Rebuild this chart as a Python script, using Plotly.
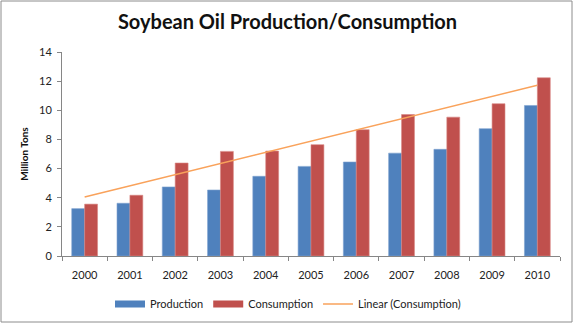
import numpy as np
import plotly.graph_objects as go

years = ["2000", "2001", "2002", "2003", "2004", "2005", "2006", "2007", "2008", "2009", "2010"]
production = [3.25, 3.62, 4.74, 4.53, 5.47, 6.15, 6.45, 7.06, 7.32, 8.74, 10.33]
consumption = [3.56, 4.17, 6.38, 7.18, 7.20, 7.64, 8.67, 9.71, 9.53, 10.45, 12.23]
y_ticks = [0, 2, 4, 6, 8, 10, 12, 14]

# linear trendline of consumption (least squares)
xi = np.arange(len(years))
slope, intercept = np.polyfit(xi, consumption, 1)
trend = list(intercept + slope * xi)

FIG_W, FIG_H = 575, 325
L, R, T, B = 62, 15, 52, 69
PW, PH = FIG_W - L - R, FIG_H - T - B

BLUE, RED, ORANGE = "#4F81BD", "#C0504D", "#F9A25B"

def px_x(px):
    return (px - L) / PW

def px_y(py):
    return (FIG_H - B - py) / PH

fig = go.Figure()
fig.add_trace(go.Bar(x=years, y=production, name="Production", showlegend=False,
                     marker=dict(color=BLUE, line=dict(color="#7FA3D0", width=0.6))))
fig.add_trace(go.Bar(x=years, y=consumption, name="Consumption", showlegend=False,
                     marker=dict(color=RED, line=dict(color="#D88683", width=0.6))))
fig.add_trace(go.Scatter(x=years, y=trend, name="Linear (Consumption)", mode="lines",
                         showlegend=False, line=dict(color=ORANGE, width=1.5)))
# legend entries (Excel-style wide swatches)
fig.add_trace(go.Scatter(x=[None], y=[None], name="Production", mode="lines",
                         line=dict(color=BLUE, width=7)))
fig.add_trace(go.Scatter(x=[None], y=[None], name="Consumption", mode="lines",
                         line=dict(color=RED, width=7)))
fig.add_trace(go.Scatter(x=[None], y=[None], name="Linear (Consumption)", mode="lines",
                         line=dict(color=ORANGE, width=1.5)))

font_family = "Lato, 'Noto Sans', sans-serif"
fig.update_layout(
    width=FIG_W, height=FIG_H,
    margin=dict(l=L, r=R, t=T, b=B, pad=0, autoexpand=False),
    paper_bgcolor="white", plot_bgcolor="white",
    barmode="group", bargap=0.43, bargroupgap=0,
    font=dict(family=font_family, size=11, color="#222"),
    title=dict(text="<b>Soybean Oil Production/Consumption</b>",
               x=0.5, xref="container", xanchor="center",
               y=1 - 22 / FIG_H, yanchor="middle",
               font=dict(family=font_family, size=20, color="#111")),
    xaxis=dict(type="category", tickson="boundaries", ticks="outside", ticklen=4,
               tickcolor="#868686", showline=True, linecolor="#868686", linewidth=1,
               showgrid=False, tickfont=dict(size=11, color="#222"), ticklabelstandoff=9),
    yaxis=dict(range=[0, 14], tickvals=y_ticks, ticks="outside", ticklen=4,
               tickcolor="#868686", showline=True, linecolor="#868686", linewidth=1,
               showgrid=False, zeroline=False, tickfont=dict(size=11, color="#222"),
               ticklabelstandoff=3,
               title=dict(text="<b>Million Tons</b>", standoff=8,
                          font=dict(size=10, color="#111"))),
    legend=dict(orientation="h", x=px_x(288), xanchor="center", y=px_y(304), yanchor="middle",
                font=dict(size=11, color="#222"), itemwidth=30, traceorder="normal",
                bgcolor="rgba(0,0,0,0)"),
    showlegend=True,
)

fig.add_shape(type="rect", xref="paper", yref="paper",
              x0=px_x(1), x1=px_x(572), y0=px_y(322), y1=px_y(1),
              line=dict(color="#8C8C8C", width=1), fillcolor="rgba(0,0,0,0)", layer="below")

fig.write_html("out.html")
